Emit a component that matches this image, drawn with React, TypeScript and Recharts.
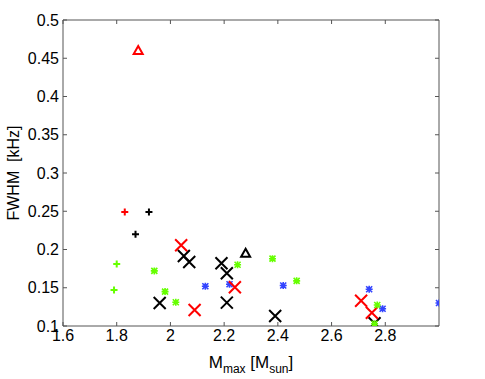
import { ScatterChart, Scatter, XAxis, YAxis } from "recharts";

type Pt = { m: number; fwhm: number };

const xTicks = [1.6, 1.8, 2, 2.2, 2.4, 2.6, 2.8];
const yTicks = [0.1, 0.15, 0.2, 0.25, 0.3, 0.35, 0.4, 0.45, 0.5];

const blackX: Pt[] = [
  { m: 2.05, fwhm: 0.1915 },
  { m: 2.07, fwhm: 0.1837 },
  { m: 2.19, fwhm: 0.182 },
  { m: 2.21, fwhm: 0.169 },
  { m: 1.96, fwhm: 0.13 },
  { m: 2.21, fwhm: 0.1305 },
  { m: 2.39, fwhm: 0.113 },
  { m: 2.76, fwhm: 0.1035 },
];
const redX: Pt[] = [
  { m: 2.04, fwhm: 0.2055 },
  { m: 2.09, fwhm: 0.121 },
  { m: 2.24, fwhm: 0.1506 },
  { m: 2.71, fwhm: 0.133 },
  { m: 2.75, fwhm: 0.1174 },
];
const blackPlus: Pt[] = [
  { m: 1.92, fwhm: 0.249 },
  { m: 1.87, fwhm: 0.22 },
];
const redPlus: Pt[] = [{ m: 1.83, fwhm: 0.249 }];
const greenPlus: Pt[] = [
  { m: 1.8, fwhm: 0.181 },
  { m: 1.79, fwhm: 0.147 },
];
const greenStar: Pt[] = [
  { m: 1.94, fwhm: 0.172 },
  { m: 1.98, fwhm: 0.145 },
  { m: 2.02, fwhm: 0.131 },
  { m: 2.25, fwhm: 0.18 },
  { m: 2.38, fwhm: 0.188 },
  { m: 2.47, fwhm: 0.159 },
  { m: 2.77, fwhm: 0.1275 },
  { m: 2.76, fwhm: 0.103 },
];
const blueStar: Pt[] = [
  { m: 2.13, fwhm: 0.152 },
  { m: 2.22, fwhm: 0.1545 },
  { m: 2.42, fwhm: 0.153 },
  { m: 2.74, fwhm: 0.148 },
  { m: 2.79, fwhm: 0.1226 },
  { m: 3.0, fwhm: 0.13 },
];
const redTriangle: Pt[] = [{ m: 1.88, fwhm: 0.46 }];
const blackTriangle: Pt[] = [{ m: 2.28, fwhm: 0.195 }];

const RED = "#ff0000";
const BLACK = "#000000";
const GREEN = "#66ff00";
const BLUE = "#3344ff";
const AXIS = "#555555";
const FONT = "'Liberation Sans', Arial, Helvetica, sans-serif";

const bigX = (color: string) => (p: any) => {
  const { cx, cy } = p;
  const r = 6;
  return (
    <path
      d={`M${cx - r},${cy - r}L${cx + r},${cy + r}M${cx - r},${cy + r}L${cx + r},${cy - r}`}
      stroke={color}
      strokeWidth={2}
      fill="none"
    />
  );
};

const plus = (color: string) => (p: any) => {
  const { cx, cy } = p;
  const r = 3.5;
  return (
    <path
      d={`M${cx - r},${cy}L${cx + r},${cy}M${cx},${cy - r}L${cx},${cy + r}`}
      stroke={color}
      strokeWidth={2}
      fill="none"
    />
  );
};

const star = (color: string) => (p: any) => {
  const { cx, cy } = p;
  const r = 3.5;
  const d = 3;
  return (
    <path
      d={`M${cx - r},${cy}L${cx + r},${cy}M${cx},${cy - r}L${cx},${cy + r}M${cx - d},${cy - d}L${cx + d},${cy + d}M${cx - d},${cy + d}L${cx + d},${cy - d}`}
      stroke={color}
      strokeWidth={1.6}
      fill="none"
    />
  );
};

const triangle = (color: string) => (p: any) => {
  const { cx, cy } = p;
  const r = 4.5;
  return (
    <path
      d={`M${cx},${cy - r}L${cx + r},${cy + r * 0.75}L${cx - r},${cy + r * 0.75}Z`}
      stroke={color}
      strokeWidth={2}
      fill="none"
    />
  );
};

const XLabel = (props: any) => {
  const vb = props.viewBox || {};
  const x = vb.x + vb.width / 2;
  return (
    <text x={x} y={368} textAnchor="middle" fontFamily={FONT} fontSize={17} fill="#000">
      M
      <tspan fontSize={12} dy={5}>max</tspan>
      <tspan dy={-5}> [M</tspan>
      <tspan fontSize={12} dy={5}>sun</tspan>
      <tspan dy={-5}>]</tspan>
    </text>
  );
};

const YLabel = (props: any) => {
  const vb = props.viewBox || {};
  const y = vb.y + vb.height / 2;
  return (
    <text
      x={19}
      y={y}
      transform={`rotate(-90 19 ${y})`}
      textAnchor="middle"
      fontFamily={FONT}
      fontSize={16}
      fill="#000"
      style={{ whiteSpace: "pre" }}
    >
      FWHM  [kHz]
    </text>
  );
};

export default function App() {
  const tickStyle = { fontSize: 16, fill: "#000", fontFamily: FONT };
  return (
    <div style={{ position: "absolute", left: 0, top: 0, width: 485, height: 379, background: "#fff" }}>
      <ScatterChart width={485} height={379} margin={{ top: 19, right: 45, bottom: 0, left: 0 }}>
        <XAxis
          type="number"
          dataKey="m"
          domain={[1.6, 3.0]}
          ticks={xTicks}
          allowDataOverflow
          height={53}
          stroke={AXIS}
          tickSize={-4}
          tickMargin={8}
          tick={tickStyle}
          tickFormatter={(v) => String(v)}
          label={<XLabel />}
        />
        <XAxis
          xAxisId="top"
          orientation="top"
          type="number"
          dataKey="m"
          domain={[1.6, 3.0]}
          ticks={xTicks}
          allowDataOverflow
          height={1}
          stroke={AXIS}
          tickSize={-4}
          tick={() => <g />}
        />
        <YAxis
          type="number"
          dataKey="fwhm"
          domain={[0.1, 0.5]}
          ticks={yTicks}
          allowDataOverflow
          width={63}
          stroke={AXIS}
          tickSize={-4}
          tickMargin={8}
          tick={tickStyle}
          tickFormatter={(v) => String(v)}
          label={<YLabel />}
        />
        <YAxis
          yAxisId="right"
          orientation="right"
          type="number"
          dataKey="fwhm"
          domain={[0.1, 0.5]}
          ticks={yTicks}
          allowDataOverflow
          width={1}
          stroke={AXIS}
          tickSize={-4}
          tick={() => <g />}
        />
        <Scatter data={blueStar} shape={star(BLUE)} isAnimationActive={false} />
        <Scatter data={blackX} shape={bigX(BLACK)} isAnimationActive={false} />
        <Scatter data={redX} shape={bigX(RED)} isAnimationActive={false} />
        <Scatter data={greenStar} shape={star(GREEN)} isAnimationActive={false} />
        <Scatter data={greenPlus} shape={plus(GREEN)} isAnimationActive={false} />
        <Scatter data={blackPlus} shape={plus(BLACK)} isAnimationActive={false} />
        <Scatter data={redPlus} shape={plus(RED)} isAnimationActive={false} />
        <Scatter data={redTriangle} shape={triangle(RED)} isAnimationActive={false} />
        <Scatter data={blackTriangle} shape={triangle(BLACK)} isAnimationActive={false} />
      </ScatterChart>
    </div>
  );
}
